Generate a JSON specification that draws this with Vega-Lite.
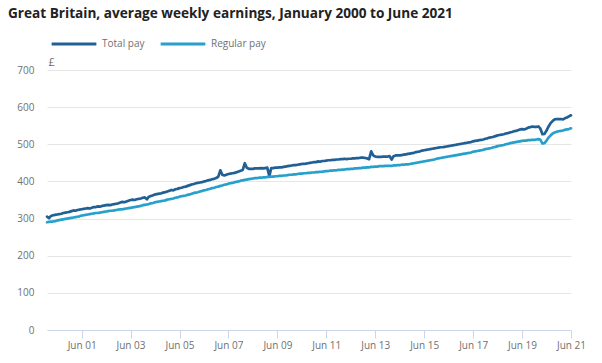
{
  "$schema": "https://vega.github.io/schema/vega-lite/v6.json",
  "width": 524,
  "height": 260,
  "autosize": {"type": "none"},
  "padding": {"left": 47, "top": 70, "right": 31, "bottom": 33},
  "background": "white",
  "title": {
    "text": "Great Britain, average weekly earnings, January 2000 to June 2021",
    "anchor": "start",
    "frame": "group",
    "dx": -39,
    "offset": -12,
    "baseline": "alphabetic",
    "font": "Open Sans",
    "fontSize": 13.6,
    "fontWeight": "bold",
    "color": "#222222"
  },
  "data": {
    "format": {"parse": {"month": "utc:'%Y-%m'"}},
    "values": [
      {"month":"2000-01","total":305,"regular":290},{"month":"2000-02","total":301,"regular":291},{"month":"2000-03","total":307,"regular":292},{"month":"2000-04","total":309,"regular":292},{"month":"2000-05","total":310,"regular":293},{"month":"2000-06","total":311,"regular":295},{"month":"2000-07","total":312,"regular":296},{"month":"2000-08","total":313,"regular":297},{"month":"2000-09","total":315,"regular":298},{"month":"2000-10","total":316,"regular":299},{"month":"2000-11","total":317,"regular":300},{"month":"2000-12","total":318,"regular":301},
      {"month":"2001-01","total":320,"regular":302},{"month":"2001-02","total":322,"regular":303},{"month":"2001-03","total":321,"regular":304},{"month":"2001-04","total":323,"regular":305},{"month":"2001-05","total":324,"regular":306},{"month":"2001-06","total":325,"regular":308},{"month":"2001-07","total":326,"regular":309},{"month":"2001-08","total":327,"regular":310},{"month":"2001-09","total":328,"regular":311},{"month":"2001-10","total":327,"regular":312},{"month":"2001-11","total":329,"regular":313},{"month":"2001-12","total":331,"regular":314},
      {"month":"2002-01","total":331,"regular":315},{"month":"2002-02","total":333,"regular":315},{"month":"2002-03","total":332,"regular":316},{"month":"2002-04","total":334,"regular":317},{"month":"2002-05","total":335,"regular":318},{"month":"2002-06","total":336,"regular":319},{"month":"2002-07","total":337,"regular":320},{"month":"2002-08","total":336,"regular":321},{"month":"2002-09","total":338,"regular":321},{"month":"2002-10","total":339,"regular":322},{"month":"2002-11","total":340,"regular":323},{"month":"2002-12","total":341,"regular":324},
      {"month":"2003-01","total":343,"regular":325},{"month":"2003-02","total":345,"regular":325},{"month":"2003-03","total":344,"regular":326},{"month":"2003-04","total":346,"regular":327},{"month":"2003-05","total":348,"regular":328},{"month":"2003-06","total":350,"regular":329},{"month":"2003-07","total":351,"regular":330},{"month":"2003-08","total":350,"regular":331},{"month":"2003-09","total":352,"regular":332},{"month":"2003-10","total":353,"regular":333},{"month":"2003-11","total":354,"regular":334},{"month":"2003-12","total":356,"regular":336},
      {"month":"2004-01","total":357,"regular":337},{"month":"2004-02","total":352,"regular":338},{"month":"2004-03","total":359,"regular":339},{"month":"2004-04","total":361,"regular":341},{"month":"2004-05","total":363,"regular":342},{"month":"2004-06","total":365,"regular":344},{"month":"2004-07","total":366,"regular":345},{"month":"2004-08","total":367,"regular":346},{"month":"2004-09","total":368,"regular":347},{"month":"2004-10","total":370,"regular":348},{"month":"2004-11","total":371,"regular":349},{"month":"2004-12","total":373,"regular":351},
      {"month":"2005-01","total":375,"regular":352},{"month":"2005-02","total":377,"regular":353},{"month":"2005-03","total":376,"regular":354},{"month":"2005-04","total":379,"regular":356},{"month":"2005-05","total":380,"regular":357},{"month":"2005-06","total":382,"regular":359},{"month":"2005-07","total":383,"regular":360},{"month":"2005-08","total":385,"regular":361},{"month":"2005-09","total":386,"regular":362},{"month":"2005-10","total":388,"regular":364},{"month":"2005-11","total":390,"regular":365},{"month":"2005-12","total":392,"regular":367},
      {"month":"2006-01","total":393,"regular":369},{"month":"2006-02","total":395,"regular":370},{"month":"2006-03","total":396,"regular":371},{"month":"2006-04","total":397,"regular":373},{"month":"2006-05","total":398,"regular":374},{"month":"2006-06","total":400,"regular":376},{"month":"2006-07","total":401,"regular":377},{"month":"2006-08","total":403,"regular":379},{"month":"2006-09","total":404,"regular":380},{"month":"2006-10","total":406,"regular":382},{"month":"2006-11","total":407,"regular":383},{"month":"2006-12","total":409,"regular":385},
      {"month":"2007-01","total":413,"regular":386},{"month":"2007-02","total":430,"regular":388},{"month":"2007-03","total":418,"regular":389},{"month":"2007-04","total":416,"regular":391},{"month":"2007-05","total":418,"regular":392},{"month":"2007-06","total":420,"regular":394},{"month":"2007-07","total":421,"regular":395},{"month":"2007-08","total":422,"regular":396},{"month":"2007-09","total":423,"regular":398},{"month":"2007-10","total":425,"regular":399},{"month":"2007-11","total":427,"regular":400},{"month":"2007-12","total":429,"regular":402},
      {"month":"2008-01","total":431,"regular":403},{"month":"2008-02","total":449,"regular":404},{"month":"2008-03","total":437,"regular":405},{"month":"2008-04","total":434,"regular":406},{"month":"2008-05","total":434,"regular":407},{"month":"2008-06","total":434,"regular":408},{"month":"2008-07","total":435,"regular":409},{"month":"2008-08","total":435,"regular":409},{"month":"2008-09","total":435,"regular":410},{"month":"2008-10","total":436,"regular":410},{"month":"2008-11","total":435,"regular":411},{"month":"2008-12","total":436,"regular":411},
      {"month":"2009-01","total":437,"regular":412},{"month":"2009-02","total":414,"regular":412},{"month":"2009-03","total":436,"regular":413},{"month":"2009-04","total":436,"regular":413},{"month":"2009-05","total":437,"regular":414},{"month":"2009-06","total":437,"regular":414},{"month":"2009-07","total":438,"regular":415},{"month":"2009-08","total":438,"regular":415},{"month":"2009-09","total":439,"regular":416},{"month":"2009-10","total":440,"regular":416},{"month":"2009-11","total":441,"regular":417},{"month":"2009-12","total":442,"regular":418},
      {"month":"2010-01","total":443,"regular":418},{"month":"2010-02","total":444,"regular":419},{"month":"2010-03","total":444,"regular":419},{"month":"2010-04","total":445,"regular":420},{"month":"2010-05","total":446,"regular":421},{"month":"2010-06","total":447,"regular":421},{"month":"2010-07","total":447,"regular":422},{"month":"2010-08","total":448,"regular":422},{"month":"2010-09","total":449,"regular":423},{"month":"2010-10","total":450,"regular":423},{"month":"2010-11","total":451,"regular":424},{"month":"2010-12","total":452,"regular":424},
      {"month":"2011-01","total":452,"regular":425},{"month":"2011-02","total":454,"regular":425},{"month":"2011-03","total":453,"regular":426},{"month":"2011-04","total":455,"regular":426},{"month":"2011-05","total":455,"regular":427},{"month":"2011-06","total":456,"regular":428},{"month":"2011-07","total":457,"regular":428},{"month":"2011-08","total":457,"regular":429},{"month":"2011-09","total":458,"regular":429},{"month":"2011-10","total":458,"regular":430},{"month":"2011-11","total":459,"regular":430},{"month":"2011-12","total":459,"regular":431},
      {"month":"2012-01","total":460,"regular":431},{"month":"2012-02","total":460,"regular":432},{"month":"2012-03","total":461,"regular":432},{"month":"2012-04","total":460,"regular":433},{"month":"2012-05","total":461,"regular":433},{"month":"2012-06","total":461,"regular":434},{"month":"2012-07","total":462,"regular":434},{"month":"2012-08","total":462,"regular":435},{"month":"2012-09","total":463,"regular":435},{"month":"2012-10","total":463,"regular":436},{"month":"2012-11","total":464,"regular":436},{"month":"2012-12","total":464,"regular":437},
      {"month":"2013-01","total":463,"regular":437},{"month":"2013-02","total":462,"regular":438},{"month":"2013-03","total":460,"regular":438},{"month":"2013-04","total":481,"regular":439},{"month":"2013-05","total":470,"regular":439},{"month":"2013-06","total":467,"regular":440},{"month":"2013-07","total":466,"regular":440},{"month":"2013-08","total":466,"regular":441},{"month":"2013-09","total":466,"regular":441},{"month":"2013-10","total":467,"regular":441},{"month":"2013-11","total":467,"regular":442},{"month":"2013-12","total":467,"regular":442},
      {"month":"2014-01","total":468,"regular":442},{"month":"2014-02","total":459,"regular":442},{"month":"2014-03","total":468,"regular":443},{"month":"2014-04","total":470,"regular":443},{"month":"2014-05","total":470,"regular":444},{"month":"2014-06","total":470,"regular":444},{"month":"2014-07","total":471,"regular":445},{"month":"2014-08","total":472,"regular":445},{"month":"2014-09","total":473,"regular":446},{"month":"2014-10","total":474,"regular":446},{"month":"2014-11","total":475,"regular":447},{"month":"2014-12","total":476,"regular":448},
      {"month":"2015-01","total":477,"regular":449},{"month":"2015-02","total":479,"regular":450},{"month":"2015-03","total":480,"regular":451},{"month":"2015-04","total":481,"regular":452},{"month":"2015-05","total":483,"regular":453},{"month":"2015-06","total":484,"regular":454},{"month":"2015-07","total":485,"regular":455},{"month":"2015-08","total":486,"regular":456},{"month":"2015-09","total":487,"regular":457},{"month":"2015-10","total":488,"regular":458},{"month":"2015-11","total":489,"regular":459},{"month":"2015-12","total":490,"regular":461},
      {"month":"2016-01","total":491,"regular":462},{"month":"2016-02","total":492,"regular":463},{"month":"2016-03","total":492,"regular":464},{"month":"2016-04","total":493,"regular":465},{"month":"2016-05","total":494,"regular":466},{"month":"2016-06","total":495,"regular":467},{"month":"2016-07","total":496,"regular":468},{"month":"2016-08","total":497,"regular":469},{"month":"2016-09","total":498,"regular":470},{"month":"2016-10","total":499,"regular":471},{"month":"2016-11","total":500,"regular":472},{"month":"2016-12","total":501,"regular":473},
      {"month":"2017-01","total":502,"regular":474},{"month":"2017-02","total":503,"regular":475},{"month":"2017-03","total":504,"regular":476},{"month":"2017-04","total":505,"regular":477},{"month":"2017-05","total":506,"regular":478},{"month":"2017-06","total":508,"regular":480},{"month":"2017-07","total":509,"regular":481},{"month":"2017-08","total":510,"regular":482},{"month":"2017-09","total":511,"regular":483},{"month":"2017-10","total":512,"regular":484},{"month":"2017-11","total":513,"regular":485},{"month":"2017-12","total":515,"regular":487},
      {"month":"2018-01","total":516,"regular":488},{"month":"2018-02","total":518,"regular":489},{"month":"2018-03","total":519,"regular":490},{"month":"2018-04","total":520,"regular":492},{"month":"2018-05","total":522,"regular":493},{"month":"2018-06","total":524,"regular":495},{"month":"2018-07","total":525,"regular":496},{"month":"2018-08","total":526,"regular":497},{"month":"2018-09","total":527,"regular":498},{"month":"2018-10","total":529,"regular":500},{"month":"2018-11","total":530,"regular":501},{"month":"2018-12","total":532,"regular":503},
      {"month":"2019-01","total":533,"regular":504},{"month":"2019-02","total":535,"regular":505},{"month":"2019-03","total":536,"regular":506},{"month":"2019-04","total":538,"regular":507},{"month":"2019-05","total":540,"regular":508},{"month":"2019-06","total":541,"regular":509},{"month":"2019-07","total":540,"regular":510},{"month":"2019-08","total":542,"regular":510},{"month":"2019-09","total":545,"regular":511},{"month":"2019-10","total":546,"regular":511},{"month":"2019-11","total":548,"regular":512},{"month":"2019-12","total":547,"regular":512},
      {"month":"2020-01","total":547,"regular":513},{"month":"2020-02","total":548,"regular":514},{"month":"2020-03","total":542,"regular":512},{"month":"2020-04","total":527,"regular":502},{"month":"2020-05","total":528,"regular":503},{"month":"2020-06","total":537,"regular":510},{"month":"2020-07","total":548,"regular":518},{"month":"2020-08","total":557,"regular":524},{"month":"2020-09","total":563,"regular":529},{"month":"2020-10","total":567,"regular":532},{"month":"2020-11","total":568,"regular":534},{"month":"2020-12","total":568,"regular":535},
      {"month":"2021-01","total":568,"regular":536},{"month":"2021-02","total":567,"regular":537},{"month":"2021-03","total":570,"regular":539},{"month":"2021-04","total":572,"regular":540},{"month":"2021-05","total":575,"regular":541},{"month":"2021-06","total":578,"regular":543}
    ]
  },
  "transform": [{"fold": ["total", "regular"], "as": ["series", "value"]}],
  "mark": {"type": "line", "strokeWidth": 2.7, "strokeJoin": "round", "strokeCap": "round"},
  "encoding": {
    "x": {
      "field": "month",
      "type": "temporal",
      "scale": {
        "type": "utc",
        "domain": [{"year": 2000, "month": 1, "date": 1, "utc": true}, {"year": 2021, "month": 6, "date": 1, "utc": true}],
        "nice": false
      },
      "axis": {
        "title": null,
        "grid": false,
        "values": [
          {"year": 2001, "month": 6, "date": 1, "utc": true},
          {"year": 2003, "month": 6, "date": 1, "utc": true},
          {"year": 2005, "month": 6, "date": 1, "utc": true},
          {"year": 2007, "month": 6, "date": 1, "utc": true},
          {"year": 2009, "month": 6, "date": 1, "utc": true},
          {"year": 2011, "month": 6, "date": 1, "utc": true},
          {"year": 2013, "month": 6, "date": 1, "utc": true},
          {"year": 2015, "month": 6, "date": 1, "utc": true},
          {"year": 2017, "month": 6, "date": 1, "utc": true},
          {"year": 2019, "month": 6, "date": 1, "utc": true},
          {"year": 2021, "month": 6, "date": 1, "utc": true}
        ],
        "labelExpr": "'Jun ' + utcFormat(datum.value, '%y')",
        "domainColor": "#ccd6eb",
        "tickColor": "#ccd6eb",
        "tickSize": 8,
        "labelColor": "#707071",
        "labelFont": "Open Sans",
        "labelFontSize": 10,
        "labelPadding": 2,
        "labelFlush": false,
        "labelOverlap": false
      }
    },
    "y": {
      "field": "value",
      "type": "quantitative",
      "scale": {"domain": [0, 700], "nice": false, "zero": true},
      "axis": {
        "values": [0, 100, 200, 300, 400, 500, 600, 700],
        "title": "£",
        "titleAngle": 0,
        "titleAlign": "left",
        "titleBaseline": "bottom",
        "titleX": 1,
        "titleY": -3,
        "titleFont": "Open Sans",
        "titleFontSize": 11,
        "titleFontWeight": "normal",
        "titleColor": "#707071",
        "domain": false,
        "ticks": false,
        "grid": true,
        "gridColor": "#e6e6e6",
        "labelColor": "#707071",
        "labelFont": "Open Sans",
        "labelFontSize": 10,
        "labelPadding": 13
      }
    },
    "color": {
      "field": "series",
      "type": "nominal",
      "scale": {"domain": ["total", "regular"], "range": ["#206095", "#27a0cc"]},
      "legend": {
        "title": null,
        "orient": "none",
        "legendX": 3,
        "legendY": -50,
        "direction": "horizontal",
        "padding": 0,
        "symbolType": "stroke",
        "symbolSize": 2000,
        "symbolStrokeWidth": 3,
        "labelExpr": "datum.label == 'total' ? 'Total pay' : 'Regular pay'",
        "labelFont": "Open Sans",
        "labelFontSize": 10,
        "labelColor": "#707071",
        "labelOffset": 4,
        "columnPadding": 9
      }
    }
  },
  "config": {"view": {"stroke": null}}
}
